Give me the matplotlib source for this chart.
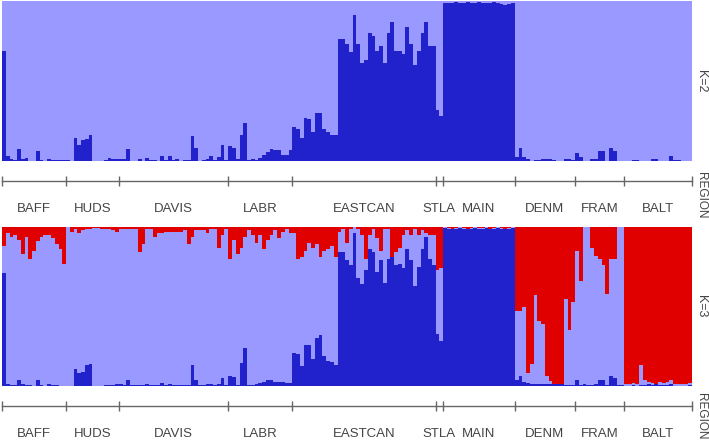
"""
STRUCTURE admixture barplots, K=2 and K=3, grouped by sampling region.
"""

import numpy as np
import matplotlib.pyplot as plt

regions = ["BAFF", "HUDS", "DAVIS", "LABR", "EASTCAN", "STLA",
           "MAIN", "DENM", "FRAM", "BALT"]
region_sizes = [17, 14, 29, 17, 38, 2, 19, 16, 13, 18]

# K=2: proportion of the dark blue cluster per individual
k2_blue = (
    # BAFF
    [0.69, 0.03, 0.015, 0.005, 0.077, 0.012, 0.02, 0.003, 0.003, 0.06, 0.005,
     0.003, 0.012, 0.008, 0.006, 0.006, 0.004]
    # HUDS
    + [0.005, 0.0, 0.145, 0.10, 0.13, 0.14, 0.16, 0.0, 0.0, 0.0, 0.005, 0.02,
       0.015, 0.01]
    # DAVIS
    + [0.015, 0.01, 0.077, 0.0, 0.003, 0.01, 0.003, 0.02, 0.005, 0.005, 0.003,
       0.03, 0.005, 0.03, 0.005, 0.01, 0.003, 0.005, 0.005, 0.154, 0.083,
       0.003, 0.005, 0.015, 0.033, 0.005, 0.025, 0.1, 0.005]
    # LABR
    + [0.095, 0.08, 0.01, 0.16, 0.24, 0.005, 0.01, 0.005, 0.02, 0.035, 0.056,
       0.078, 0.067, 0.067, 0.035, 0.04, 0.067]
    # EASTCAN
    + [0.21, 0.2, 0.145, 0.27, 0.26, 0.18, 0.3, 0.3, 0.2, 0.18, 0.16, 0.16,
       0.76, 0.76, 0.73, 0.68, 0.91, 0.73, 0.61, 0.63, 0.8, 0.78, 0.69, 0.72,
       0.61, 0.8, 0.87, 0.69, 0.69, 0.67, 0.84, 0.73, 0.6, 0.69, 0.8, 0.87,
       0.72, 0.72]
    # STLA
    + [0.32, 0.28]
    # MAIN
    + [0.985, 0.99, 0.99, 0.995, 0.99, 0.99, 0.995, 0.99, 0.99, 0.995, 0.99,
       0.99, 0.99, 0.995, 0.99, 0.98, 0.975, 0.98, 0.99]
    # DENM
    + [0.027, 0.083, 0.027, 0.01, 0.003, 0.006, 0.006, 0.01, 0.01, 0.01,
       0.006, 0.003, 0.003, 0.01, 0.01, 0.006]
    # FRAM
    + [0.048, 0.027, 0.003, 0.003, 0.01, 0.01, 0.063, 0.063, 0.0, 0.083,
       0.063, 0.003, 0.003]
    # BALT
    + [0.002, 0.002, 0.006, 0.006, 0.002, 0.002, 0.002, 0.01, 0.01, 0.002,
       0.002, 0.002, 0.03, 0.006, 0.006, 0.002, 0.002, 0.002]
)

# K=3: red cluster (drawn from the top)
k3_red = (
    [0.12, 0.04, 0.06, 0.05, 0.08, 0.17, 0.06, 0.20, 0.15, 0.09, 0.06, 0.05,
     0.05, 0.07, 0.11, 0.14, 0.23]
    + [0.0, 0.03, 0.01, 0.04, 0.02, 0.01, 0.01, 0.005, 0.005, 0.01, 0.01,
       0.01, 0.02, 0.03]
    + [0.01, 0.01, 0.015, 0.01, 0.01, 0.16, 0.11, 0.01, 0.01, 0.06, 0.04,
       0.04, 0.03, 0.03, 0.03, 0.03, 0.03, 0.02, 0.11, 0.06, 0.02, 0.02,
       0.02, 0.04, 0.01, 0.01, 0.13, 0.05, 0.01]
    + [0.2, 0.08, 0.17, 0.13, 0.06, 0.02, 0.05, 0.1, 0.05, 0.14, 0.08, 0.05,
       0.02, 0.07, 0.03, 0.01, 0.04]
    + [0.04, 0.2, 0.19, 0.15, 0.1, 0.13, 0.11, 0.19, 0.15, 0.14, 0.12, 0.19,
       0.03, 0.01, 0.1, 0.01, 0.0, 0.01, 0.05, 0.2, 0.05, 0.01, 0.07, 0.15,
       0.01, 0.01, 0.19, 0.16, 0.13, 0.05, 0.02, 0.05, 0.01, 0.05, 0.02,
       0.04, 0.05, 0.05]
    + [0.27, 0.26]
    + [0.0, 0.005, 0.01, 0.005, 0.0, 0.005, 0.01, 0.005, 0.0, 0.005, 0.005,
       0.0, 0.01, 0.005, 0.0, 0.005, 0.01, 0.005, 0.0]
    + [0.53, 0.53, 0.50, 0.92, 0.86, 0.43, 0.59, 0.61, 0.94, 0.97, 0.985,
       0.985, 0.985, 0.45, 0.65, 0.47]
    + [0.15, 0.34, 0.0, 0.0, 0.13, 0.18, 0.2, 0.24, 0.42, 0.2, 0.2, 0.0, 0.0]
    + [0.985, 0.985, 0.98, 0.985, 0.87, 0.965, 0.975, 0.98, 0.985, 0.975,
       0.98, 0.975, 0.96, 0.985, 0.985, 0.985, 0.985, 0.98]
)

# K=3: dark blue cluster (drawn from the bottom)
k3_blue = (
    [0.71, 0.01, 0.005, 0.005, 0.04, 0.01, 0.005, 0.005, 0.003, 0.04, 0.005,
     0.003, 0.01, 0.005, 0.005, 0.003, 0.003]
    + [0.003, 0.0, 0.11, 0.08, 0.09, 0.13, 0.14, 0.0, 0.0, 0.0, 0.005, 0.005,
       0.005, 0.01]
    + [0.01, 0.005, 0.04, 0.005, 0.005, 0.005, 0.005, 0.01, 0.005, 0.005,
       0.005, 0.02, 0.005, 0.01, 0.005, 0.005, 0.005, 0.005, 0.005, 0.13,
       0.04, 0.005, 0.005, 0.01, 0.01, 0.005, 0.01, 0.05, 0.005]
    + [0.06, 0.057, 0.005, 0.145, 0.24, 0.005, 0.005, 0.01, 0.02, 0.025,
       0.04, 0.04, 0.025, 0.025, 0.025, 0.02, 0.02]
    + [0.21, 0.2, 0.126, 0.26, 0.255, 0.17, 0.3, 0.32, 0.19, 0.16, 0.15, 0.13,
       0.84, 0.84, 0.79, 0.76, 0.96, 0.68, 0.64, 0.73, 0.86, 0.84, 0.72, 0.79,
       0.65, 0.8, 0.87, 0.76, 0.77, 0.74, 0.86, 0.79, 0.63, 0.75, 0.86, 0.94,
       0.8, 0.76]
    + [0.33, 0.28]
    + [0.995, 0.99, 0.985, 0.99, 0.995, 0.99, 0.985, 0.99, 0.995, 0.99, 0.99,
       0.995, 0.985, 0.99, 0.995, 0.99, 0.985, 0.99, 0.995]
    + [0.035, 0.06, 0.025, 0.02, 0.01, 0.01, 0.01, 0.01, 0.015, 0.015, 0.015,
       0.01, 0.01, 0.005, 0.005, 0.005]
    + [0.035, 0.005, 0.015, 0.005, 0.005, 0.01, 0.04, 0.04, 0.005, 0.06,
       0.05, 0.005, 0.005]
    + [0.003, 0.003, 0.005, 0.003, 0.005, 0.005, 0.01, 0.005, 0.01, 0.005,
       0.005, 0.005, 0.01, 0.003, 0.003, 0.003, 0.003, 0.005]
)

LIGHT = "#9999FF"
DARK = "#2222CC"
RED = "#E00000"
GREY = "#666666"
TXT = "#444444"

plt.rcParams["font.family"] = ["Liberation Sans", "DejaVu Sans"]

k2_blue = np.array(k2_blue)
k3_red = np.array(k3_red)
k3_blue = np.array(k3_blue)
n = len(k2_blue)
x = np.arange(n)

bounds = np.concatenate([[0], np.cumsum(region_sizes)])
centers = (bounds[:-1] + bounds[1:]) / 2

fig = plt.figure(figsize=(7.09, 4.42), dpi=100)
W, H = 709, 442


def frac_box(x0, y0, x1, y1):
    # pixel box (top-left origin) -> figure fraction
    return [x0 / W, 1 - y1 / H, (x1 - x0) / W, (y1 - y0) / H]


def stack(ax, layers):
    bottom = np.zeros(n)
    for vals, col in layers:
        ax.bar(x, vals, width=1.0, bottom=bottom, align="edge", color=col,
               linewidth=0, antialiased=False)
        bottom = bottom + vals
    ax.set_xlim(0, n)
    ax.set_ylim(0, 1)
    ax.axis("off")


def region_axis(y_px, label_y):
    ax = fig.add_axes(frac_box(2, y_px - 0.5, 692, y_px + 0.5))
    ax.set_xlim(0, n)
    for s in ["top", "left", "right"]:
        ax.spines[s].set_visible(False)
    ax.spines["bottom"].set_color(GREY)
    ax.spines["bottom"].set_linewidth(1.0)
    ax.set_yticks([])
    ax.set_xticks(bounds)
    ax.set_xticklabels([])
    ax.tick_params(axis="x", which="major", direction="inout", length=7,
                   width=1.0, color=GREY)
    ax.set_xticks(centers, minor=True)
    ax.set_xticklabels(regions, minor=True)
    ax.tick_params(axis="x", which="minor", length=0, pad=16,
                   labelsize=9.5, labelcolor=TXT)
    fig.text(701 / W, 1 - label_y / H, "REGION", rotation=-90,
             ha="center", va="center", fontsize=8.5, color=TXT)


# K=2 panel
ax2 = fig.add_axes(frac_box(2, 1, 692, 161))
stack(ax2, [(k2_blue, DARK), (1 - k2_blue, LIGHT)])
fig.text(701 / W, 1 - 81 / H, "K=2", rotation=-90, ha="center", va="center",
         fontsize=9, color=TXT)
region_axis(180, 195)

# K=3 panel
ax3 = fig.add_axes(frac_box(2, 227, 692, 386))
stack(ax3, [(k3_blue, DARK), (1 - k3_blue - k3_red, LIGHT), (k3_red, RED)])
fig.text(701 / W, 1 - 306 / H, "K=3", rotation=-90, ha="center", va="center",
         fontsize=9, color=TXT)
region_axis(405.5, 416)

fig.savefig("out.png", dpi=100, facecolor="white")
